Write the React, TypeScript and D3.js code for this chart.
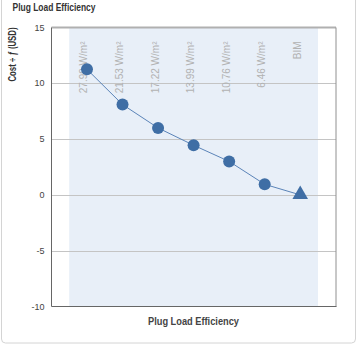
import React from "react";
import * as d3 from "d3";

const categories = ["27.99 W/m²", "21.53 W/m²", "17.22 W/m²", "13.99 W/m²", "10.76 W/m²", "6.46 W/m²", "BIM"];
const values = [11.25, 8.1, 6.0, 4.45, 3.0, 0.95, 0];
const yTicks = [15, 10, 5, 0, -5, -10];
const chartTitle = "Plug Load Efficiency";
const xTitle = "Plug Load Efficiency";
const yTitle = "Cost ÷ ƒ (USD)";

const W = 358;
const H = 349;
const plot = { left: 51.5, right: 336, top: 27.5, bottom: 306.5 };
const bandRange: [number, number] = [69.2, 318];

export default function App() {
  const y = d3.scaleLinear().domain([-10, 15]).range([plot.bottom, plot.top]);
  const x = d3.scaleBand<string>().domain(categories).range(bandRange).padding(0);
  const cx = (c: string) => (x(c) as number) + x.bandwidth() / 2;
  const pts: [number, number][] = categories.map((c, i) => [cx(c), y(values[i])]);
  const line = d3.line()(pts) as string;
  const tri = d3.symbol().type(d3.symbolTriangle).size(105)() as string;
  const font = "'Liberation Sans', Arial, sans-serif";

  return (
    <svg width={W} height={H} style={{ position: "absolute", left: 0, top: 0, fontFamily: font }}>
      <rect x={1.5} y={-6} width={354} height={349} rx={4} fill="#fff" stroke="#d4d4d4" />
      <text x={12.5} y={10.5} fontSize={11} fontWeight="bold" fill="#333" textLength={83} lengthAdjust="spacingAndGlyphs">
        {chartTitle}
      </text>
      <rect x={bandRange[0]} y={plot.top} width={bandRange[1] - bandRange[0]} height={plot.bottom - plot.top} fill="#e8eff8" />
      {yTicks.filter((t) => t !== 15 && t !== -10).map((t) => (
        <line key={t} x1={plot.left} x2={plot.right} y1={Math.round(y(t)) + 0.5} y2={Math.round(y(t)) + 0.5} stroke="#c4c4c4" />
      ))}
      {yTicks.map((t) => (
        <text key={t} x={44.5} y={y(t) + 3} fontSize={9} textAnchor="end" fill="#444">
          {t}
        </text>
      ))}
      <line x1={plot.left} x2={plot.right} y1={plot.top} y2={plot.top} stroke="#b0b0b0" strokeWidth={2} />
      <line x1={plot.right} x2={plot.right} y1={plot.top} y2={plot.bottom} stroke="#909090" />
      <line x1={plot.left} x2={plot.left} y1={plot.top} y2={plot.bottom} stroke="#666" />
      <line x1={plot.left} x2={plot.right + 0.5} y1={plot.bottom} y2={plot.bottom} stroke="#666" />
      {categories.map((c) => (
        <text
          key={c}
          transform={`translate(${cx(c) + 0.5},41.5) rotate(-90)`}
          fontSize={10}
          textAnchor="end"
          fill="#b2b2b2"
        >
          {c}
        </text>
      ))}
      <path d={line} fill="none" stroke="#5b84b8" strokeWidth={1} />
      {pts.slice(0, -1).map((p, i) => (
        <circle key={i} cx={p[0]} cy={p[1]} r={6} fill="#3f6ea5" />
      ))}
      <path d={tri} transform={`translate(${pts[pts.length - 1][0]},${pts[pts.length - 1][1] - 0.5})`} fill="#3f6ea5" />
      <text
        transform={`translate(16,27.5) rotate(-90)`}
        fontSize={10}
        fontWeight="bold"
        fill="#333"
        textAnchor="end"
        textLength={54}
        lengthAdjust="spacingAndGlyphs"
      >
        {yTitle}
      </text>
      <text x={193.5} y={325} fontSize={11} fontWeight="bold" fill="#444" textAnchor="middle" textLength={91} lengthAdjust="spacingAndGlyphs">
        {xTitle}
      </text>
    </svg>
  );
}
